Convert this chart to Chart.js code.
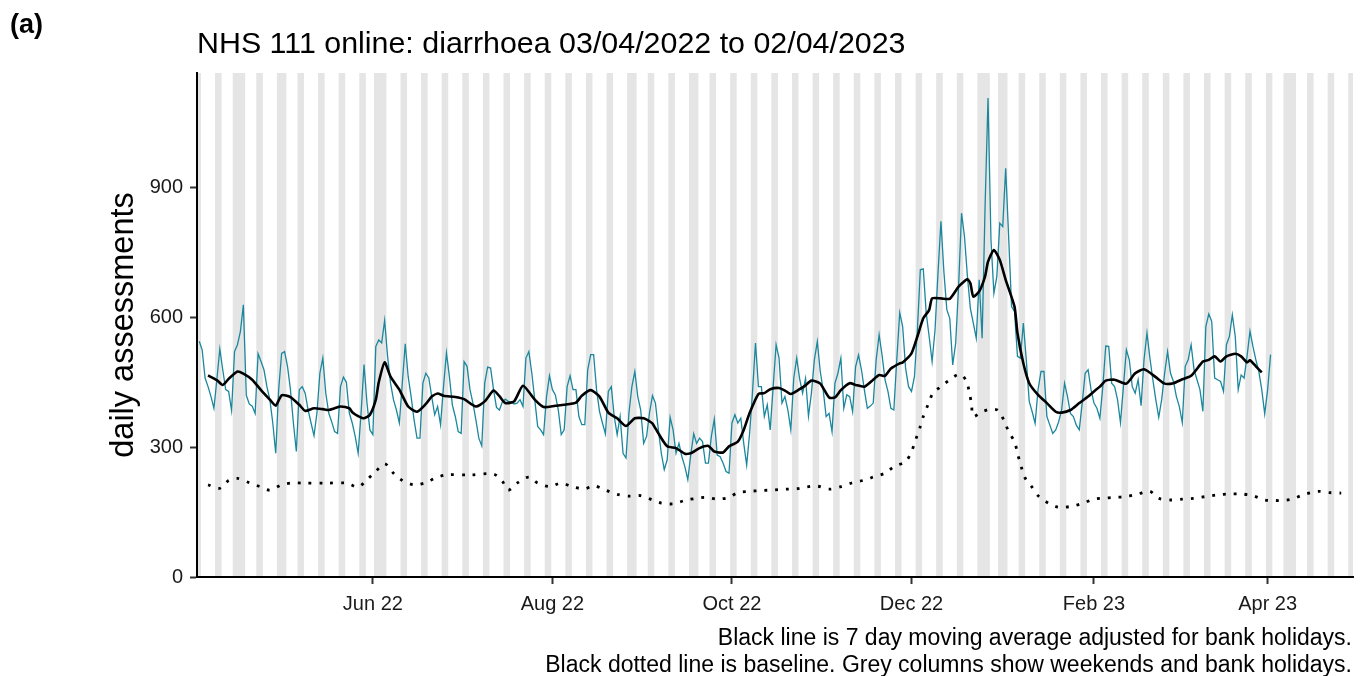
<!DOCTYPE html>
<html>
<head>
<meta charset="utf-8">
<script src="https://cdn.jsdelivr.net/npm/chart.js"></script>
<style>
  body { margin: 0; background: #fff; }
  #wrap { position: relative; width: 1363px; height: 676px; font-family: "Liberation Sans", Arial, sans-serif; color: #000; }
  #chart { position: absolute; left: 0; top: 0; }
  .txt { position: absolute; white-space: nowrap; }
  #panel { left: 10px; top: 11px; font-size: 27px; font-weight: bold; line-height: 27px; }
  #title { left: 197px; top: 27px; font-size: 30.4px; line-height: 30px; }
  #caption { right: 11px; top: 624px; font-size: 23px; line-height: 27px; text-align: right; }
</style>
</head>
<body>
<div id="wrap">
  <canvas id="chart" width="1363" height="676"></canvas>
  <div class="txt" id="panel">(a)</div>
  <div class="txt" id="title">NHS 111 online: diarrhoea 03/04/2022 to 02/04/2023</div>
  <div class="txt" id="caption">Black line is 7 day moving average adjusted for bank holidays.<br>Black dotted line is baseline. Grey columns show weekends and bank holidays.</div>
</div>
<script>
// day 0 = Sun 03/04/2022
const startDate = Date.UTC(2022, 3, 3);

const xTickDays = [59, 120, 181, 242, 304, 363];
const xTickLabels = ['Jun 22', 'Aug 22', 'Oct 22', 'Dec 22', 'Feb 23', 'Apr 23'];
const yTicks = [0, 300, 600, 900];

const bankHolidays = ['2022-04-15', '2022-04-18', '2022-05-02', '2022-06-02', '2022-06-03',
  '2022-08-29', '2022-09-19', '2022-12-26', '2022-12-27', '2023-01-02', '2023-04-07', '2023-04-10'];

// daily assessments, one row per week (Sun..Sat)
const daily = [
  545, 525, 460, 440, 417, 390, 456,
  527, 479, 433, 429, 385, 521, 537,
  568, 629, 420, 400, 395, 378, 516,
  498, 479, 440, 410, 356, 286, 433,
  517, 521, 487, 433, 356, 290, 433,
  440, 425, 386, 356, 327, 379, 471,
  506, 425, 379, 359, 336, 332, 440,
  462, 450, 379, 356, 325, 286, 379,
  491, 402, 340, 329, 533, 548, 541,
  593, 510, 448, 410, 386, 356, 448,
  539, 463, 417, 363, 321, 321, 448,
  471, 460, 417, 375, 394, 352, 440,
  518, 463, 398, 371, 336, 332, 498,
  487, 433, 402, 363, 321, 303, 448,
  485, 483, 433, 392, 386, 405, 411,
  406, 404, 400, 402, 410, 394, 506,
  521, 471, 410, 348, 340, 329, 417,
  465, 433, 421, 386, 329, 340, 440,
  465, 433, 433, 371, 352, 352, 479,
  514, 514, 433, 383, 356, 331, 429,
  440, 371, 329, 371, 286, 275, 379,
  440, 475, 417, 386, 309, 325, 380,
  419, 402, 340, 286, 248, 271, 369,
  340, 286, 309, 278, 255, 225, 282,
  331, 309, 321, 313, 263, 263, 325,
  365, 282, 278, 263, 244, 240, 356,
  375, 356, 367, 309, 259, 332, 429,
  541, 440, 440, 371, 398, 340, 440,
  537, 506, 402, 417, 386, 340, 460,
  506, 458, 425, 459, 372, 425, 502,
  544, 475, 432, 371, 378, 336, 448,
  471, 506, 390, 421, 417, 382, 486,
  513, 479, 432, 390, 395, 402, 502,
  560, 513, 456, 429, 390, 386, 502,
  611, 579, 482, 440, 429, 463, 571,
  710, 712, 610, 556, 498, 571, 702,
  822, 706, 618, 598, 490, 540, 671,
  841, 787, 695, 621, 587, 552, 687,
  552, 857, 1107, 779, 656, 695, 818,
  810, 945, 787, 625, 614, 510, 506,
  587, 502, 406, 382, 355, 433, 475,
  475, 371, 351, 332, 340, 359, 386,
  448, 417, 378, 371, 351, 340, 402,
  471, 479, 433, 402, 390, 367, 440,
  534, 533, 448, 440, 410, 357, 440,
  525, 502, 440, 425, 456, 396, 502,
  564, 506, 456, 410, 369, 410, 471,
  521, 471, 452, 417, 394, 357, 487,
  502, 537, 479, 456, 433, 383, 579,
  608, 591, 460, 456, 452, 429, 537,
  556, 606, 556, 433, 467, 460, 510,
  568, 533, 502, 475, 433, 377, 433,
  514
];

// 7 day moving average (black line), read at these days
const maDay = [3, 6, 8, 10, 13, 15, 18, 21, 24, 26, 28, 31, 34, 36, 39, 42, 44, 46, 48, 51,
  52, 54, 56, 58, 60, 61, 63, 65, 68, 71, 74, 77, 79, 81, 83, 87, 90, 94, 97, 100,
  102, 104, 107, 110, 114, 117, 121, 124, 128, 130, 133, 136, 139, 142, 145, 148, 151, 153, 154, 156,
  159, 162, 165, 167, 170, 173, 175, 178, 180, 183, 185, 187, 190, 192, 194, 197, 199, 201, 204, 206,
  208, 211, 214, 216, 218, 221, 223, 226, 229, 231, 233, 235, 238, 239, 242, 244, 246, 248, 249, 252,
  255, 258, 261, 262, 263, 265, 267, 268, 270, 272, 274, 277, 278, 280, 282, 285, 288, 291, 293, 296,
  299, 302, 304, 306, 308, 311, 315, 318, 321, 325, 328, 331, 334, 337, 341, 343, 345, 347, 349, 352,
  354, 356, 357, 359, 361];
const maValue = [466, 455, 444, 458, 475, 470, 456, 432, 410, 396, 420, 416, 398, 384, 390, 388, 386, 390, 394, 390,
  381, 372, 367, 375, 410, 450, 496, 463, 433, 394, 382, 400, 417, 424, 419, 416, 411, 394, 406, 431,
  418, 402, 406, 442, 410, 393, 396, 398, 403, 419, 432, 417, 380, 367, 349, 367, 367, 360, 355, 332,
  302, 298, 285, 286, 298, 303, 290, 288, 302, 313, 340, 379, 423, 425, 434, 437, 431, 423, 434, 443,
  454, 447, 415, 415, 432, 448, 444, 440, 456, 467, 465, 482, 494, 496, 517, 556, 598, 617, 644, 644,
  643, 671, 688, 679, 648, 660, 695, 729, 756, 733, 687, 625, 564, 494, 448, 421, 402, 382, 380, 386,
  402, 417, 429, 440, 454, 456, 447, 471, 480, 462, 447, 448, 457, 465, 498, 502, 510, 498, 510, 516,
  510, 496, 501, 487, 473];

// baseline (dotted line), read at these days
const baseDay = [3, 7, 10, 13, 17, 21, 24, 28, 32, 35, 43, 50, 54, 57, 60, 63, 66, 69, 73, 77,
  80, 84, 92, 100, 103, 105, 108, 112, 115, 119, 123, 127, 131, 134, 138, 142, 146, 150, 154, 157,
  161, 165, 169, 172, 176, 180, 183, 187, 191, 195, 199, 203, 206, 210, 214, 218, 222, 226, 229, 233,
  236, 240, 242, 243.4, 244.8, 246, 247.6, 249.3, 252, 255, 258.4, 260.5, 261.6, 262.4, 263, 266, 269, 271.4, 273.5, 275,
  277, 278, 279.2, 280.5, 283, 285.3, 288.7, 292, 296, 300, 304, 307, 311, 315, 319, 323, 326, 330, 334, 338,
  342, 346, 350, 354, 358, 362, 365, 369, 372, 376, 380, 384, 388];
const baseValue = [213, 205, 223, 228, 218, 208, 201, 213, 218, 217, 217, 217, 208, 225, 244, 262, 240, 223, 213, 218,
  228, 236, 236, 238, 221, 201, 217, 231, 217, 209, 217, 208, 204, 211, 201, 191, 187, 188, 178, 171,
  169, 177, 182, 184, 180, 184, 195, 198, 200, 201, 203, 204, 208, 210, 203, 209, 218, 224, 231, 240,
  255, 267, 290, 317, 344, 371, 398, 425, 440, 456, 469, 455, 429, 398, 371, 382, 388, 385, 361, 336,
  313, 286, 257, 230, 207, 186, 170, 161, 163, 170, 180, 182, 184, 186, 192, 198, 182, 178, 180, 182,
  186, 190, 192, 192, 188, 178, 177, 177, 182, 192, 198, 195, 194];

const xMin = -0.75;
const xMax = 392;
const yMax = 1165;

// grey columns: weekends from the calendar plus bank holidays
const holidayDays = bankHolidays.map(s => Math.round((Date.parse(s) - startDate) / 86400000));
const greyDays = [];
for (let d = 0; d <= xMax; d++) {
  const wd = d % 7; // 0 = Sunday, 6 = Saturday
  if (wd === 0 || wd === 6 || holidayDays.includes(d)) greyDays.push(d);
}

const font = 'Liberation Sans, Arial, sans-serif';

new Chart(document.getElementById('chart'), {
  data: {
    datasets: [
      {
        type: 'bar',
        data: greyDays.map(d => ({ x: d, y: yMax })),
        backgroundColor: '#e5e5e5',
        borderWidth: 0,
        categoryPercentage: 1,
        barPercentage: 1,
        clip: 0,
        order: 10
      },
      {
        type: 'line',
        data: daily.map((v, i) => ({ x: i, y: v })),
        borderColor: '#1b879c',
        borderWidth: 1.3,
        pointRadius: 0,
        tension: 0,
        order: 3
      },
      {
        type: 'line',
        data: baseDay.map((d, i) => ({ x: d, y: baseValue[i] })),
        borderColor: '#000',
        borderWidth: 2.8,
        borderDash: [2.8, 8],
        borderCapStyle: 'butt',
        pointRadius: 0,
        tension: 0.3,
        order: 2
      },
      {
        type: 'line',
        data: maDay.map((d, i) => ({ x: d, y: maValue[i] })),
        borderColor: '#000',
        borderWidth: 2.6,
        pointRadius: 0,
        tension: 0.2,
        order: 1
      }
    ]
  },
  options: {
    responsive: false,
    animation: false,
    events: [],
    layout: { padding: { left: 0, top: 73, right: 10, bottom: 0 } },
    plugins: { legend: { display: false }, tooltip: { enabled: false } },
    scales: {
      x: {
        type: 'linear',
        min: xMin,
        max: xMax,
        offset: false,
        afterBuildTicks: s => { s.ticks = xTickDays.map(v => ({ value: v })); },
        afterFit: s => { s.height = 99; },
        ticks: {
          callback: v => xTickLabels[xTickDays.indexOf(v)],
          font: { family: font, size: 20 },
          color: '#1a1a1a',
          padding: 8,
          maxRotation: 0,
          autoSkip: false
        },
        grid: { offset: false, drawOnChartArea: false, tickLength: 7, tickWidth: 2, tickColor: '#333' },
        border: { color: '#000', width: 2, z: 1 }
      },
      y: {
        type: 'linear',
        min: 0,
        max: yMax,
        afterBuildTicks: s => { s.ticks = yTicks.map(v => ({ value: v })); },
        afterFit: s => { s.width = 197; },
        ticks: {
          font: { family: font, size: 20 },
          color: '#1a1a1a',
          padding: 7
        },
        grid: { drawOnChartArea: false, tickLength: 7, tickWidth: 2, tickColor: '#333' },
        border: { color: '#000', width: 2, z: 1 },
        title: {
          display: true,
          text: 'daily assessments',
          font: { family: font, size: 32.5 },
          color: '#000',
          padding: { top: 105, bottom: 0 }
        }
      }
    }
  }
});
</script>
</body>
</html>
